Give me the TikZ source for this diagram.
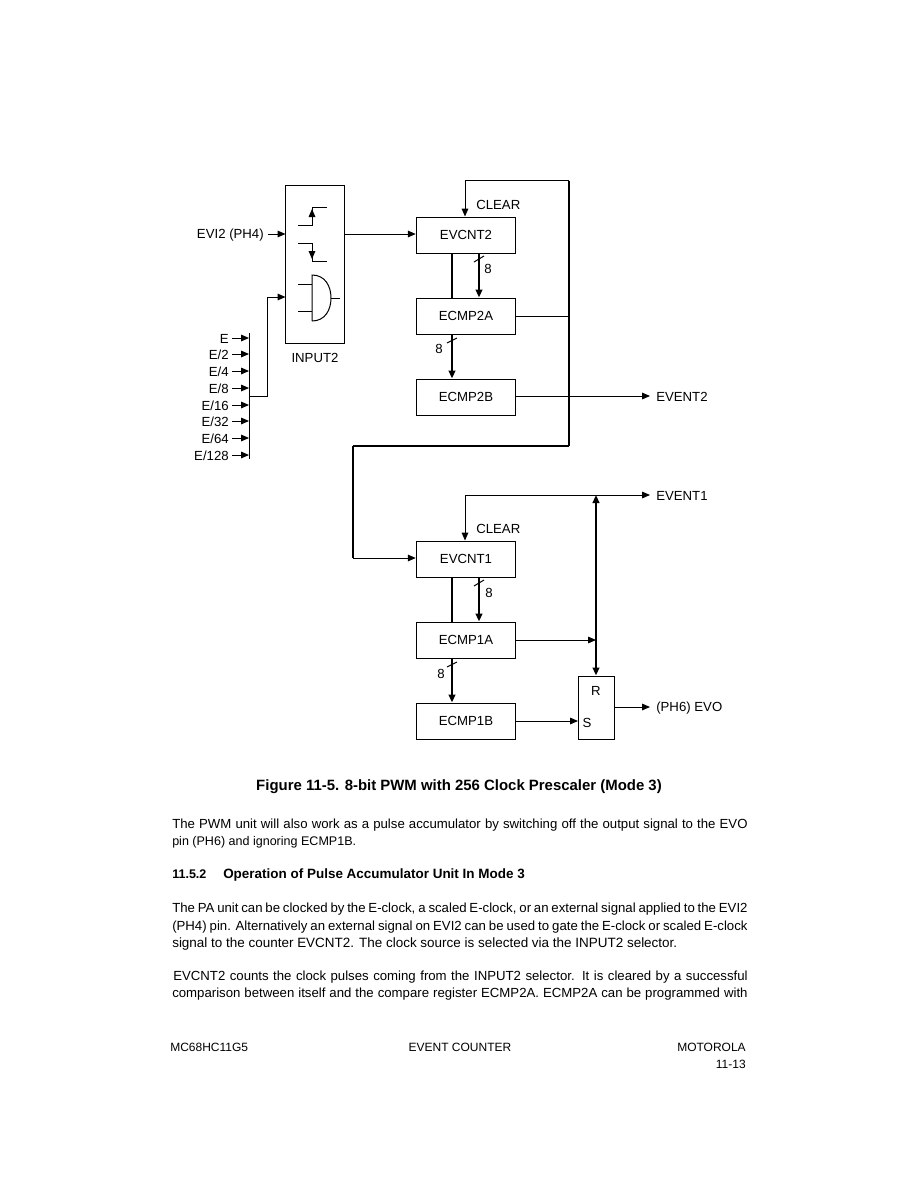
\documentclass[tikz,border=0pt]{standalone}
\usepackage{fontspec}
\setmainfont{Liberation Sans}
\usetikzlibrary{arrows.meta}
\tikzset{
  x=0.75pt,y=-0.75pt,
  block/.style={draw,line width=0.75pt,minimum width=74.6pt,minimum height=27pt,inner sep=0pt,font=\fontsize{9.9pt}{11pt}\selectfont},
  lbl/.style={inner sep=0pt,yshift=-0.5pt,font=\fontsize{9.9pt}{11pt}\selectfont},
  para/.style={inner sep=0pt,anchor=base west,font=\fontsize{9.9pt}{11pt}\selectfont},
  foot/.style={inner sep=0pt,font=\fontsize{9pt}{11pt}\selectfont},
  thin line/.style={line width=0.75pt},
  mid line/.style={line width=1pt},
  thick line/.style={line width=1.5pt},
  tip/.style={-{Triangle[length=6pt,width=5pt]}},
  duo/.style={{Triangle[length=6pt,width=5pt]}-{Triangle[length=6pt,width=5pt]}},
}
\newcommand{\jline}[3]{\node[para] (#1) at (172,#2) {\makebox[431.5pt][s]{#3}};}
\begin{document}
\begin{tikzpicture}
\useasboundingbox (0,0) rectangle (919,1189);
\fill[white] (0,0) rectangle (919,1189);
% INPUT2
\node[draw,line width=0.75pt,minimum width=44.25pt,minimum height=118.5pt,inner sep=0pt] (input) at (315,264) {};
\node[lbl] (inputlbl) at (315,357) {INPUT2};
% step edges
\coordinate (su1) at (298,225);\coordinate (su2) at (312,225);\coordinate (su3) at (312,207);\coordinate (su4) at (327,207);
\draw[thin line] (su1)--(su2)--(su3)--(su4);
\coordinate (sm) at (312,209);
\draw[tip,thin line] (su2)--(sm);
\coordinate (sd1) at (298,243);\coordinate (sd2) at (312,243);\coordinate (sd3) at (312,261);\coordinate (sd4) at (327,261);
\draw[thin line] (sd1)--(sd2)--(sd3)--(sd4);
\coordinate (sdm) at (312,259);
\draw[tip,thin line] (sd2)--(sdm);
% AND
\coordinate (and1) at (312,275);\coordinate (and2) at (312,321);\coordinate (ando) at (331,298);
\draw[thin line] (and2)--(and1) .. controls (325,275) and (331,286) .. (ando) .. controls (331,310) and (325,321) .. (and2);
\coordinate (ai1) at (298,284);\coordinate (ai1e) at (312,284);
\coordinate (ai2) at (298,311);\coordinate (ai2e) at (312,311);
\coordinate (aoe) at (340,298);
\draw[thin line] (ai1)--(ai1e);\draw[thin line] (ai2)--(ai2e);\draw[thin line] (ando)--(aoe);
% left inputs
\node[lbl,anchor=east] (evi) at (264,234) {EVI2 (PH4)};
\coordinate (evis) at (268,234);\coordinate (evie) at (285.5,234);
\draw[tip,thin line] (evis)--(evie);
\coordinate (bust) at (249,333);\coordinate (busb) at (249,459);
\draw[thin line] (bust)--(busb);
\foreach \n/\t/\y in {a/E/338,b/E\slash 2/354,c/E\slash 4/371,d/E\slash 8/388,e/E\slash 16/405,f/E\slash 32/421,g/E\slash 64/438,h/E\slash 128/455}{
  \node[lbl,anchor=east] (cl\n) at (229,\y) {\t};
  \coordinate (cs\n) at (232,\y);\coordinate (ce\n) at (249,\y);
  \draw[tip,thin line] (cs\n)--(ce\n);
}
\coordinate (bo) at (249,396);\coordinate (bo1) at (267,396);\coordinate (bo2) at (267,297);\coordinate (bo3) at (285.5,297);
\draw[tip,thin line] (bo)--(bo1)--(bo2)--(bo3);
% upper blocks
\node[block] (ev2) at (466,235) {EVCNT2};
\node[block] (c2a) at (466,316) {ECMP2A};
\node[block] (c2b) at (466,397) {ECMP2B};
\draw[tip,thin line] (344.5,234)--(ev2.west|-344.5,234);
\coordinate (bar2t) at (569,180.5);\coordinate (bar2b) at (569,446);
\draw[thick line] (bar2t)--(bar2b);
\coordinate (top2) at (465,180.5);
\draw[tip,thin line] (bar2t)--(top2)--(top2|-ev2.north);
\node[lbl,anchor=west] (cl2) at (476,204) {CLEAR};
\draw[thick line] (ev2.south-|452,0)--(c2a.north-|452,0);
\draw[tip,thick line] (ev2.south-|479,0)--(c2a.north-|479,0);
\coordinate (s2a) at (474,262);\coordinate (s2b) at (484,256);
\draw[thin line] (s2a)--(s2b);
\node[lbl] (n2a) at (488,268) {8};
\draw[tip,thick line] (c2a.south-|452,0)--(c2b.north-|452,0);
\coordinate (s2c) at (447,343);\coordinate (s2d) at (457,338);
\draw[thin line] (s2c)--(s2d);
\node[lbl] (n2b) at (439,348) {8};
\draw[thin line] (c2a.east)--(c2a.east-|bar2t);
\node[lbl,anchor=west] (ev2o) at (656,396) {EVENT2};
\coordinate (ev2e) at (650,396);
\draw[tip,thin line] (c2b.east|-ev2e)--(ev2e);
% link
\coordinate (l1) at (353,446);\coordinate (l2) at (353,558);
\draw[mid line] (bar2b)--(l1);
\draw[thick line] (l1)--(l2);
% lower blocks
\node[block] (ev1) at (466,559) {EVCNT1};
\node[block] (c1a) at (466,640) {ECMP1A};
\node[block] (c1b) at (466,721) {ECMP1B};
\draw[tip,thin line] (l2)--(ev1.west|-l2);
\coordinate (top1) at (465,495);\coordinate (ev1e) at (650,495);\coordinate (j1) at (596,495);
\draw[tip,thin line] (top1)--(ev1e);
\draw[tip,thin line] (top1)--(top1|-ev1.north);
\node[lbl,anchor=west] (cl1) at (476,528) {CLEAR};
\node[lbl,anchor=west] (ev1o) at (656,495) {EVENT1};
\draw[thick line] (ev1.south-|452,0)--(c1a.north-|452,0);
\draw[tip,thick line] (ev1.south-|479,0)--(c1a.north-|479,0);
\coordinate (s1a) at (474,586);\coordinate (s1b) at (484,580);
\draw[thin line] (s1a)--(s1b);
\node[lbl] (n1a) at (489,592) {8};
\draw[tip,thick line] (c1a.south-|452,0)--(c1b.north-|452,0);
\coordinate (s1c) at (447,667);\coordinate (s1d) at (457,662);
\draw[thin line] (s1c)--(s1d);
\node[lbl] (n1b) at (441,673) {8};
\node[draw,line width=0.75pt,minimum width=27pt,minimum height=47.25pt,inner sep=0pt] (sr) at (596.5,707.5) {};
\node[lbl] (rl) at (596,690) {R};
\node[lbl] (sl) at (587,722) {S};
\draw[duo,thick line] (j1)--(j1|-sr.north);
\draw[tip,thin line] (c1a.east)--(c1a.east-|j1);
\draw[tip,thin line] (c1b.east)--(c1b.east-|sr.west);
\coordinate (evoe) at (650,707);
\draw[tip,thin line] (sr.east|-evoe)--(evoe);
\node[lbl,anchor=west] (evo) at (656,707) {(PH6) EVO};
% text
\node[inner sep=0pt,font=\bfseries\fontsize{11.2pt}{12pt}\selectfont] (cap) at (459,787) {Figure 11-5. 8-bit PWM with 256 Clock Prescaler (Mode 3)};
\jline{p1}{828}{The PWM unit will also work as a pulse accumulator by switching off the output signal to the EVO}
\node[para,font=\fontsize{9.4pt}{11pt}\selectfont] (p2) at (172,845) {pin (PH6) and ignoring ECMP1B.};
\node[para,font=\bfseries\fontsize{9.4pt}{11pt}\selectfont] (h1) at (172,878) {11.5.2};
\node[para,font=\bfseries\fontsize{10.1pt}{11pt}\selectfont] (h2) at (223,878) {Operation of Pulse Accumulator Unit In Mode 3};
\jline{p3}{912}{The PA unit can be clocked by the E-clock, a scaled E-clock, or an external signal applied to the EVI2}
\jline{p4}{930}{(PH4) pin. Alternatively an external signal on EVI2 can be used to gate the E-clock or scaled E-clock}
\node[para,font=\fontsize{10.1pt}{11pt}\selectfont] (p5) at (172,947) {signal to the counter EVCNT2. The clock source is selected via the INPUT2 selector.};
\node[para] (p6) at (173,980) {\makebox[430.8pt][s]{EVCNT2 counts the clock pulses coming from the INPUT2 selector. It is cleared by a successful}};
\jline{p7}{997}{comparison between itself and the compare register ECMP2A. ECMP2A can be programmed with}
\node[foot,anchor=base west] (f1) at (170,1051) {MC68HC11G5};
\node[foot,anchor=base] (f2) at (460,1051) {EVENT COUNTER};
\node[foot,anchor=base east] (f3) at (746,1051) {MOTOROLA};
\node[foot,anchor=base east] (f4) at (746,1068) {11-13};
\end{tikzpicture}
\end{document}
